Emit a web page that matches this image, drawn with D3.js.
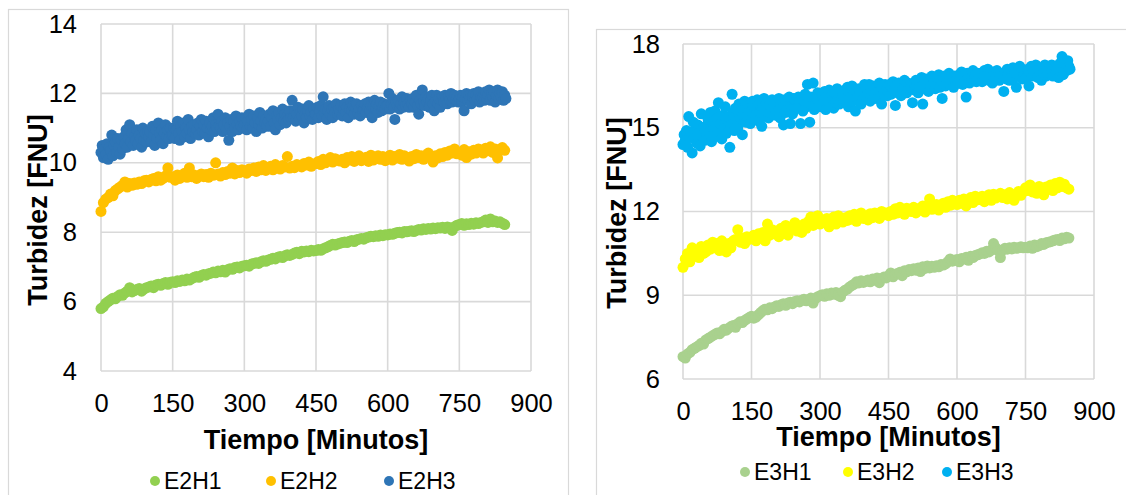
<!DOCTYPE html>
<html>
<head>
<meta charset="utf-8">
<script src="https://cdn.jsdelivr.net/npm/d3@7"></script>
<style>
  body { margin: 0; background: #fff; }
  svg text { font-family: "Liberation Sans", Arial, sans-serif; fill: #000; }
</style>
</head>
<body>
<svg id="chart" width="1126" height="495"></svg>
<script>
// Sampling times (minutes): every 5 min, and every 2.5 min for the H3 probes
const minutes = d3.range(0, 850, 5);
const minutesH3 = d3.range(0, 850, 2.5);

const xTicks = [0, 150, 300, 450, 600, 750, 900];
const yTicksE2 = [4, 6, 8, 10, 12, 14];
const yTicksE3 = [6, 9, 12, 15, 18];

const namesE2 = ["E2H1", "E2H2", "E2H3"];
const namesE3 = ["E3H1", "E3H2", "E3H3"];
const colorsE2 = ["#92D050", "#FFC000", "#2E75B6"];
const colorsE3 = ["#A9D18E", "#FFFF00", "#00B0F0"];

// Turbidity [FNU]
const e2h1 = [
  5.80, 5.85, 5.95, 6.00, 6.05, 6.10, 6.08, 6.15, 6.20, 6.18,
  6.25, 6.30, 6.40, 6.28, 6.32, 6.35, 6.38, 6.30, 6.36, 6.40,
  6.42, 6.45, 6.40, 6.48, 6.50, 6.47, 6.52, 6.55, 6.50, 6.56,
  6.57, 6.55, 6.60, 6.58, 6.62, 6.60, 6.65, 6.62, 6.66, 6.70,
  6.72, 6.70, 6.75, 6.78, 6.76, 6.80, 6.82, 6.85, 6.83, 6.88,
  6.86, 6.90, 6.85, 6.92, 6.95, 6.93, 6.98, 7.00, 6.97, 7.02,
  7.03, 7.05, 7.02, 7.08, 7.10, 7.12, 7.10, 7.15, 7.18, 7.16,
  7.20, 7.22, 7.25, 7.23, 7.28, 7.30, 7.27, 7.32, 7.35, 7.33,
  7.36, 7.40, 7.42, 7.38, 7.45, 7.43, 7.46, 7.44, 7.48, 7.46,
  7.47, 7.50, 7.48, 7.52, 7.55, 7.58, 7.62, 7.65, 7.63, 7.66,
  7.68, 7.70, 7.72, 7.70, 7.74, 7.76, 7.73, 7.78, 7.80, 7.82,
  7.80, 7.84, 7.86, 7.88, 7.87, 7.90, 7.88, 7.92, 7.90, 7.93,
  7.92, 7.95, 7.94, 7.97, 7.99, 8.00, 7.98, 8.02, 8.01, 8.03,
  8.04, 8.02, 8.05, 8.08, 8.06, 8.10, 8.08, 8.11, 8.09, 8.12,
  8.10, 8.13, 8.12, 8.14, 8.11, 8.15, 8.13, 8.05, 8.16, 8.20,
  8.22, 8.25, 8.20, 8.24, 8.22, 8.26, 8.23, 8.27, 8.25, 8.28,
  8.30, 8.35, 8.28, 8.38, 8.30, 8.32, 8.28, 8.30, 8.26, 8.22
];
const e2h2 = [
  8.60, 8.85, 8.95, 9.00, 9.10, 9.05, 9.20, 9.25, 9.30, 9.35,
  9.45, 9.30, 9.40, 9.35, 9.42, 9.38, 9.45, 9.40, 9.48, 9.50,
  9.45, 9.52, 9.55, 9.48, 9.60, 9.50, 9.55, 9.62, 9.85, 9.58,
  9.60, 9.50, 9.65, 9.55, 9.62, 9.70, 9.58, 9.85, 9.60, 9.65,
  9.55, 9.62, 9.68, 9.60, 9.66, 9.58, 9.70, 9.64, 10.00, 9.68,
  9.62, 9.72, 9.66, 9.75, 9.70, 9.85, 9.68, 9.78, 9.72, 9.80,
  9.76, 9.70, 9.82, 9.78, 9.85, 9.75, 9.88, 9.80, 9.92, 9.78,
  9.84, 9.90, 9.80, 9.95, 9.86, 9.82, 9.92, 9.88, 10.18, 9.85,
  9.90, 9.86, 9.95, 9.92, 9.88, 9.98, 9.94, 10.02, 9.90, 9.96,
  9.98, 10.04, 9.95, 10.10, 10.00, 10.06, 10.15, 10.02, 10.12, 10.08,
  10.05, 10.10, 10.00, 10.15, 10.08, 10.18, 10.04, 10.12, 10.20, 10.06,
  10.10, 10.16, 10.04, 10.22, 10.08, 10.14, 10.20, 10.10, 10.18, 10.06,
  10.12, 10.22, 10.08, 10.18, 10.14, 10.24, 10.10, 10.20, 10.16, 10.05,
  10.18, 10.12, 10.24, 10.15, 10.20, 10.10, 10.22, 10.28, 10.16, 10.02,
  10.20, 10.14, 10.26, 10.18, 10.30, 10.22, 10.34, 10.28, 10.40, 10.26,
  10.30, 10.22, 10.38, 10.15, 10.32, 10.25, 10.36, 10.28, 10.40, 10.32,
  10.28, 10.42, 10.35, 10.46, 10.30, 10.40, 10.14, 10.38, 10.44, 10.36
];
const e2h3 = [
  10.30, 10.50, 10.15, 10.40, 10.25, 10.55, 10.10, 10.45, 10.35, 10.80, 10.20, 10.50, 10.60, 10.30, 10.70, 10.45, 10.25, 10.65, 10.40, 10.75,
  10.55, 10.95, 10.45, 10.70, 11.10, 10.60, 10.85, 10.50, 10.75, 10.65, 10.95, 10.55, 10.80, 10.70, 10.45, 11.00, 10.65, 10.85, 10.60, 10.90,
  10.75, 10.90, 10.60, 11.05, 10.80, 10.50, 10.95, 10.70, 11.15, 10.85, 10.65, 10.95, 10.55, 10.85, 11.10, 10.75, 10.95, 10.70, 11.00, 10.80,
  10.80, 11.00, 10.70, 10.95, 11.20, 10.85, 10.65, 11.05, 10.90, 11.15, 10.75, 11.00, 10.85, 11.25, 10.95, 10.70, 11.05, 10.90, 11.10, 10.85,
  10.95, 11.15, 10.80, 11.05, 11.25, 10.90, 11.10, 10.85, 11.20, 11.00, 10.75, 11.15, 10.95, 11.05, 11.30, 10.90, 11.10, 11.00, 11.40, 11.05,
  11.00, 11.20, 10.90, 11.10, 11.30, 10.95, 11.15, 10.65, 11.05, 11.25, 10.90, 11.20, 11.00, 11.35, 11.10, 10.95, 11.20, 11.05, 11.30, 11.00,
  11.10, 11.30, 10.95, 11.20, 11.40, 11.05, 11.25, 11.00, 11.35, 11.15, 10.90, 11.30, 11.10, 11.45, 11.20, 11.00, 11.35, 11.15, 11.25, 11.05,
  11.20, 11.40, 11.05, 11.30, 11.50, 11.15, 10.95, 11.35, 11.25, 11.45, 11.10, 11.30, 11.55, 11.20, 11.40, 11.15, 11.35, 11.25, 11.50, 11.30,
  11.80, 11.30, 11.50, 11.20, 11.40, 11.60, 11.25, 11.45, 11.35, 11.55, 11.15, 11.40, 11.30, 11.50, 11.65, 11.35, 11.45, 11.25, 11.55, 11.40,
  11.40, 11.60, 11.30, 11.50, 11.65, 11.35, 11.90, 11.45, 11.55, 11.25, 11.50, 11.65, 11.40, 11.55, 11.30, 11.60, 11.45, 11.70, 11.40, 11.55,
  11.45, 11.65, 11.35, 11.55, 11.70, 11.45, 11.60, 11.30, 11.55, 11.75, 11.50, 11.65, 11.40, 11.60, 11.70, 11.45, 11.55, 11.35, 11.65, 11.50,
  11.55, 11.70, 11.45, 11.60, 11.75, 11.50, 11.65, 11.30, 11.60, 11.80, 11.55, 11.70, 11.45, 11.65, 11.75, 11.50, 11.60, 11.70, 11.55, 11.65,
  11.65, 12.00, 11.55, 11.70, 11.85, 11.60, 11.25, 11.75, 11.65, 11.80, 11.55, 11.70, 11.90, 11.60, 11.75, 11.65, 11.85, 11.70, 11.60, 11.80,
  11.70, 11.85, 11.60, 11.75, 11.95, 11.65, 11.40, 11.80, 11.70, 12.10, 11.75, 11.65, 11.90, 11.75, 11.85, 11.60, 11.80, 11.95, 11.70, 11.50,
  11.80, 11.95, 11.70, 11.85, 11.60, 11.80, 11.90, 11.75, 11.95, 11.85, 11.70, 11.90, 11.80, 12.00, 11.75, 11.85, 11.95, 11.80, 11.90, 11.75,
  11.85, 11.95, 11.75, 11.90, 11.50, 11.85, 12.00, 11.80, 11.95, 11.85, 11.70, 11.90, 12.00, 11.80, 11.95, 11.85, 12.05, 11.75, 11.90, 11.85,
  11.90, 11.80, 12.05, 11.85, 11.95, 12.10, 11.80, 12.00, 11.90, 12.05, 11.75, 11.95, 12.10, 11.85, 12.00, 11.90, 12.05, 11.80, 11.95, 11.85
];
const e3h1 = [
  6.80, 6.75, 6.90, 6.95, 7.05, 7.10, 7.15, 7.20, 7.28, 7.25,
  7.40, 7.45, 7.50, 7.55, 7.60, 7.65, 7.62, 7.70, 7.78, 7.75,
  7.82, 7.88, 7.92, 7.85, 7.98, 8.05, 8.02, 8.10, 8.15, 8.20,
  8.25, 8.18, 8.22, 8.30, 8.38, 8.45, 8.50, 8.48, 8.55, 8.52,
  8.58, 8.62, 8.60, 8.66, 8.70, 8.64, 8.72, 8.75, 8.70, 8.78,
  8.80, 8.76, 8.82, 8.86, 8.80, 8.84, 8.90, 8.72, 8.88, 8.95,
  8.98, 9.02, 8.96, 9.05, 9.00, 9.08, 9.04, 9.10, 9.00, 8.95,
  9.12, 9.18, 9.22, 9.30, 9.35, 9.40, 9.48, 9.44, 9.52, 9.46,
  9.50, 9.55, 9.48, 9.58, 9.54, 9.62, 9.45, 9.60, 9.65, 9.62,
  9.70, 9.80, 9.66, 9.75, 9.78, 9.82, 9.70, 9.88, 9.84, 9.92,
  9.88, 9.95, 9.90, 9.98, 9.85, 10.02, 9.96, 10.05, 9.98, 10.04,
  10.00, 10.06, 10.02, 10.10, 10.08, 10.12, 10.20, 10.30, 10.22, 10.25,
  10.28, 10.20, 10.32, 10.30, 10.36, 10.25, 10.40, 10.35, 10.42, 10.45,
  10.48, 10.52, 10.50, 10.58, 10.55, 10.62, 10.85, 10.70, 10.60, 10.35,
  10.62, 10.68, 10.65, 10.70, 10.66, 10.72, 10.68, 10.70, 10.74, 10.70,
  10.72, 10.70, 10.76, 10.68, 10.80, 10.74, 10.78, 10.85, 10.82, 10.88,
  10.90, 10.92, 10.95, 10.98, 11.00, 10.96, 11.05, 11.02, 11.08, 11.05
];
const e3h2 = [
  10.00, 10.30, 10.50, 10.20, 10.70, 10.40, 10.60, 10.35, 10.75, 10.50,
  10.55, 10.80, 10.65, 10.90, 10.70, 10.85, 10.60, 10.95, 10.75, 10.55,
  10.85, 10.70, 10.95, 11.00, 11.35, 10.90, 11.05, 10.85, 11.10, 11.00,
  11.05, 11.15, 10.95, 11.20, 11.05, 11.25, 10.95, 11.55, 11.15, 11.35,
  11.20, 11.30, 11.10, 11.40, 11.25, 11.50, 11.15, 11.35, 11.45, 11.60,
  11.30, 11.45, 11.25, 11.55, 11.40, 11.65, 11.80, 11.50, 11.70, 11.85,
  11.55, 11.70, 11.60, 11.75, 11.45, 11.65, 11.80, 11.55, 11.85, 11.70,
  11.62, 11.78, 11.68, 11.85, 11.72, 11.90, 11.65, 11.82, 11.95, 11.75,
  11.80, 11.70, 11.92, 11.78, 11.95, 11.85, 11.75, 12.00, 11.88, 11.95,
  11.85, 12.00, 11.90, 12.10, 11.95, 12.15, 12.02, 11.90, 12.12, 12.05,
  12.00, 12.15, 11.95, 12.10, 12.05, 12.20, 11.98, 12.12, 12.45, 12.08,
  12.10, 12.25, 12.05, 12.20, 12.30, 12.15, 12.35, 12.22, 12.40, 12.28,
  12.25, 12.40, 12.30, 12.45, 12.20, 12.38, 12.50, 12.32, 12.55, 12.42,
  12.45, 12.55, 12.35, 12.50, 12.60, 12.40, 12.62, 12.48, 12.55, 12.65,
  12.50, 12.60, 12.45, 12.68, 12.55, 12.40, 12.62, 12.72, 12.58, 12.70,
  12.85, 12.75, 12.95, 12.70, 12.82, 12.65, 12.90, 12.78, 12.60, 12.88,
  12.80, 12.95, 12.75, 13.00, 12.85, 13.05, 12.90, 12.98, 12.85, 12.80
];
const e3h3 = [
  14.40, 14.75, 14.55, 14.90, 14.30, 15.40, 14.65, 14.85, 14.10, 15.20, 14.60, 14.95, 14.45, 15.10, 14.80, 14.35, 15.50, 14.70, 15.00, 14.55,
  15.05, 14.65, 15.30, 14.85, 15.55, 14.50, 15.20, 14.95, 15.60, 14.70, 15.35, 15.90, 14.90, 15.15, 14.60, 15.45, 15.00, 15.75, 14.80, 15.25,
  15.40, 14.30, 15.10, 16.20, 15.55, 14.90, 15.70, 15.25, 15.00, 15.85, 15.35, 15.60, 14.75, 15.45, 15.95, 15.20, 15.65, 15.40, 15.80, 15.15,
  15.60, 15.95, 15.30, 15.75, 15.45, 16.00, 15.25, 15.85, 15.55, 15.05, 15.70, 16.05, 15.40, 15.90, 15.60, 15.35, 15.80, 15.50, 16.00, 15.65,
  15.75, 15.45, 15.95, 15.60, 16.05, 15.35, 15.85, 15.70, 15.10, 16.00, 15.55, 15.90, 15.65, 16.10, 15.15, 15.80, 15.50, 16.05, 15.75, 15.95,
  15.70, 16.10, 15.85, 15.15, 16.00, 15.60, 15.95, 16.20, 15.75, 16.55, 15.90, 15.20, 16.10, 15.80, 16.60, 15.65, 16.05, 15.85, 16.25, 15.95,
  16.05, 15.75, 16.20, 15.90, 16.30, 15.65, 16.10, 15.95, 16.35, 15.80, 16.15, 16.00, 15.70, 16.25, 15.90, 16.40, 16.05, 15.85, 16.20, 16.00,
  16.15, 15.90, 16.35, 16.05, 16.45, 15.75, 16.25, 16.10, 16.50, 15.95, 16.20, 15.60, 16.30, 16.05, 16.40, 16.15, 15.85, 16.35, 16.00, 16.55,
  16.10, 16.40, 16.20, 16.55, 15.95, 16.35, 16.15, 16.50, 16.25, 16.05, 16.45, 16.30, 16.60, 16.10, 15.85, 16.40, 16.20, 16.55, 16.35, 16.15,
  16.30, 16.55, 16.20, 16.45, 16.65, 16.35, 15.80, 16.50, 16.25, 16.60, 16.40, 16.15, 16.55, 16.35, 16.70, 16.45, 16.25, 16.60, 16.40, 16.50,
  16.45, 15.90, 16.60, 16.35, 16.70, 16.50, 16.25, 16.65, 16.45, 16.80, 15.85, 16.55, 16.40, 16.75, 16.60, 16.30, 16.70, 16.50, 16.85, 16.55,
  16.60, 16.40, 16.75, 16.55, 16.90, 16.45, 16.70, 16.05, 16.65, 16.85, 16.50, 16.75, 16.60, 16.95, 16.55, 16.80, 16.65, 16.45, 16.85, 16.70,
  16.75, 16.60, 16.90, 16.70, 17.00, 16.55, 16.85, 16.65, 16.10, 16.95, 16.75, 16.60, 16.90, 16.80, 17.05, 16.70, 16.85, 16.65, 16.95, 16.75,
  16.80, 16.95, 16.65, 16.90, 17.05, 16.75, 16.85, 17.10, 16.70, 16.95, 16.80, 16.60, 17.00, 16.85, 16.75, 17.05, 16.90, 16.70, 16.95, 16.80,
  16.85, 16.30, 16.95, 16.75, 17.10, 16.90, 16.70, 17.05, 16.85, 17.15, 16.80, 16.95, 16.45, 17.00, 16.85, 17.20, 16.90, 16.75, 17.05, 16.95,
  16.95, 16.80, 17.10, 16.50, 17.00, 17.20, 16.85, 17.05, 16.90, 17.25, 16.95, 16.80, 17.10, 17.00, 16.70, 17.15, 16.95, 17.25, 16.85, 17.05,
  16.90, 17.10, 16.95, 17.25, 16.85, 17.05, 17.20, 16.95, 17.10, 16.80, 17.30, 17.00, 17.55, 16.90, 17.15, 17.25, 17.05, 17.40, 17.20, 17.10
];

const svg = d3.select("#chart");
const GRID = "#d9d9d9";

function drawPanel(p) {
  const g = svg.append("g");

  // outer chart frame
  g.append("rect")
    .attr("x", p.frame[0] + 0.5).attr("y", p.frame[1] + 0.5)
    .attr("width", p.frame[2]).attr("height", p.frame[3])
    .attr("fill", "#fff").attr("stroke", GRID).attr("stroke-width", 1.2);

  const x = d3.scaleLinear().domain([0, 900]).range([p.left, p.right]);
  const y = d3.scaleLinear().domain(p.yDomain).range([p.bottom, p.top]);

  // gridlines
  g.append("g").selectAll("line").data(p.yTicks).join("line")
    .attr("x1", p.left).attr("x2", p.right)
    .attr("y1", d => y(d)).attr("y2", d => y(d))
    .attr("stroke", GRID).attr("stroke-width", 1.6);
  g.append("g").selectAll("line").data(xTicks).join("line")
    .attr("x1", d => x(d)).attr("x2", d => x(d))
    .attr("y1", p.top).attr("y2", p.bottom)
    .attr("stroke", GRID).attr("stroke-width", 1.6);

  // axes: labels only, lines are the gridlines
  const yAxis = g.append("g")
    .attr("transform", `translate(${p.left},0)`)
    .call(d3.axisLeft(y).tickValues(p.yTicks).tickSize(0).tickPadding(p.left - p.yLabelRight));
  yAxis.select(".domain").remove();
  yAxis.selectAll("text").attr("font-size", p.tickSize).style("font-family", "Liberation Sans, Arial, sans-serif");

  const xAxis = g.append("g")
    .attr("transform", `translate(0,${p.bottom})`)
    .call(d3.axisBottom(x).tickValues(xTicks).tickSize(0).tickPadding(0));
  xAxis.select(".domain").remove();
  xAxis.selectAll("text")
    .attr("y", p.xTickY - p.bottom).attr("dy", "0.35em")
    .attr("font-size", p.tickSize).style("font-family", "Liberation Sans, Arial, sans-serif");

  // axis titles
  g.append("text")
    .attr("x", (p.left + p.right) / 2).attr("y", p.xTitleY)
    .attr("dy", "0.35em").attr("text-anchor", "middle")
    .attr("font-size", p.titleSize).attr("font-weight", "bold")
    .text("Tiempo [Minutos]");
  g.append("text")
    .attr("transform", `translate(${p.yTitleX},${p.yTitleY}) rotate(-90)`)
    .attr("dy", "0.35em").attr("text-anchor", "middle")
    .attr("font-size", p.titleSize).attr("font-weight", "bold")
    .text("Turbidez [FNU]");

  // scatter markers
  p.series.forEach((s, i) => {
    g.append("g").selectAll("circle")
      .data(s.t.map((m, k) => [m, s.v[k]]))
      .join("circle")
      .attr("cx", d => x(d[0])).attr("cy", d => y(d[1]))
      .attr("r", 5.5).attr("fill", p.colors[i]);
  });

  // legend
  const lg = g.append("g");
  p.names.forEach((name, i) => {
    lg.append("circle").attr("cx", p.legendX[i]).attr("cy", p.legendY)
      .attr("r", 5).attr("fill", p.colors[i]);
    lg.append("text").attr("x", p.legendX[i] + 9).attr("y", p.legendY)
      .attr("dy", "0.35em").attr("font-size", p.legendSize).text(name);
  });
}

drawPanel({
  frame: [8, 9, 560, 500],
  left: 101, right: 531, top: 24, bottom: 371,
  yDomain: [4, 14], yTicks: yTicksE2, yLabelRight: 77,
  xTickY: 403, xTitleY: 440, yTitleX: 38, yTitleY: 210,
  tickSize: 25.5, titleSize: 27, legendSize: 23,
  legendX: [155, 271, 389], legendY: 481,
  series: [{ t: minutes, v: e2h1 }, { t: minutes, v: e2h2 }, { t: minutesH3, v: e2h3 }],
  colors: colorsE2, names: namesE2
});

drawPanel({
  frame: [596, 29, 560, 500],
  left: 683, right: 1094, top: 44, bottom: 379,
  yDomain: [6, 18], yTicks: yTicksE3, yLabelRight: 660,
  xTickY: 411, xTitleY: 437, yTitleX: 617, yTitleY: 213,
  tickSize: 25.5, titleSize: 27, legendSize: 23,
  legendX: [745, 848, 947], legendY: 472,
  series: [{ t: minutes, v: e3h1 }, { t: minutes, v: e3h2 }, { t: minutesH3, v: e3h3 }],
  colors: colorsE3, names: namesE3
});
</script>
</body>
</html>
